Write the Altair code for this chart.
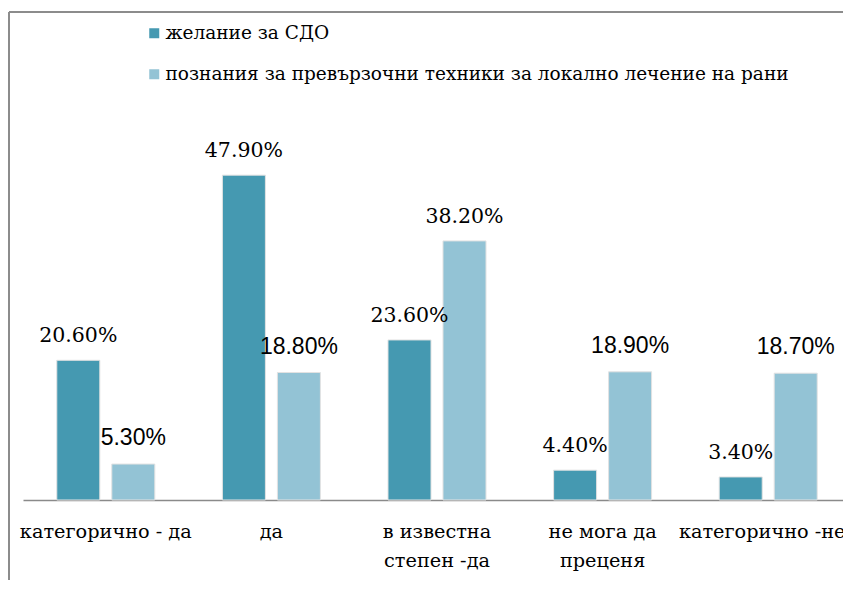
import altair as alt
import pandas as pd

categories = ["категорично - да", "да", "в известна|степен -да", "не мога да|преценя", "категорично -не"]
series = ["желание за СДО", "познания за превързочни техники за локално лечение на рани"]
wish = [20.6, 47.9, 23.6, 4.4, 3.4]
knowledge = [5.3, 18.8, 38.2, 18.9, 18.7]
colors = ["#4599B1", "#93C3D5"]

SERIF = "DejaVu Serif"
SANS = "Liberation Sans"

rows = []
for i, c in enumerate(categories):
    rows.append(dict(cat=c, series=series[0], value=wish[i], label=f"{wish[i]:.2f}%"))
    rows.append(dict(cat=c, series=series[1], value=knowledge[i], label=f"{knowledge[i]:.2f}%"))
df = pd.DataFrame(rows)

last_test = f"datum.value == '{categories[-1]}'"

x = alt.X("cat:N", sort=categories,
          scale=alt.Scale(paddingInner=0, paddingOuter=0),
          axis=alt.Axis(title=None, labelExpr="split(datum.label, '|')", labelAngle=0,
                        ticks=False, labelFont=SERIF, labelFontSize=19.3,
                        labelColor="#000000", labelLineHeight=29, labelPadding=22,
                        labelOffset={"condition": {"test": last_test, "value": -6}, "value": 0},
                        labelLimit=400, domainColor="#8a8a8a", domainWidth=1.5))
xo = alt.XOffset("series:N", sort=series,
                 scale=alt.Scale(paddingInner=0.218, paddingOuter=0.6145))
y = alt.Y("value:Q", scale=alt.Scale(domain=[0, 55]), axis=None)

base = alt.Chart(df)

bars = base.mark_bar(stroke="#e2e2e2", strokeWidth=1).encode(
    x=x, xOffset=xo, y=y,
    color=alt.Color("series:N", sort=series,
                    scale=alt.Scale(domain=series, range=colors),
                    legend=alt.Legend(title=None, orient="none", legendX=122, legendY=-103,
                                      direction="vertical", symbolType="square",
                                      symbolSize=100, symbolStrokeWidth=0,
                                      labelFont=SERIF, labelFontSize=18.5,
                                      labelColor="#000000", rowPadding=22, labelOffset=2,
                                      labelLimit=1000))
)

serif_test = f"datum.series == '{series[0]}' || datum.value == 38.2"

labels_serif = base.transform_filter(serif_test).mark_text(
    baseline="alphabetic", dy=-18, font=SERIF, fontSize=20.5, color="#000000"
).encode(x=x, xOffset=xo, y=y, text="label:N")

labels_sans = base.transform_filter(f"!({serif_test})").mark_text(
    baseline="alphabetic", dy=-19, font=SANS, fontSize=23, color="#000000"
).encode(x=x, xOffset=xo, y=y, text="label:N")

frame_df = pd.DataFrame({"a": [0]})
left_border = alt.Chart(frame_df).mark_rule(color="#8c8c8c", strokeWidth=2).encode(
    x=alt.value(-14), y=alt.value(-115), y2=alt.value(600))
top_border = alt.Chart(frame_df).mark_rule(color="#8c8c8c", strokeWidth=2).encode(
    x=alt.value(-14), x2=alt.value(900), y=alt.value(-115))

chart = alt.layer(left_border, top_border, bars, labels_serif, labels_sans).properties(
    width=828, height=373,
    autosize=alt.AutoSizeParams(type="none"),
    padding={"left": 15, "top": 119, "right": -8, "bottom": 80},
    background="white",
).configure_view(stroke=None)

chart.save("out.html", embed_options={"renderer": "svg", "actions": False})
